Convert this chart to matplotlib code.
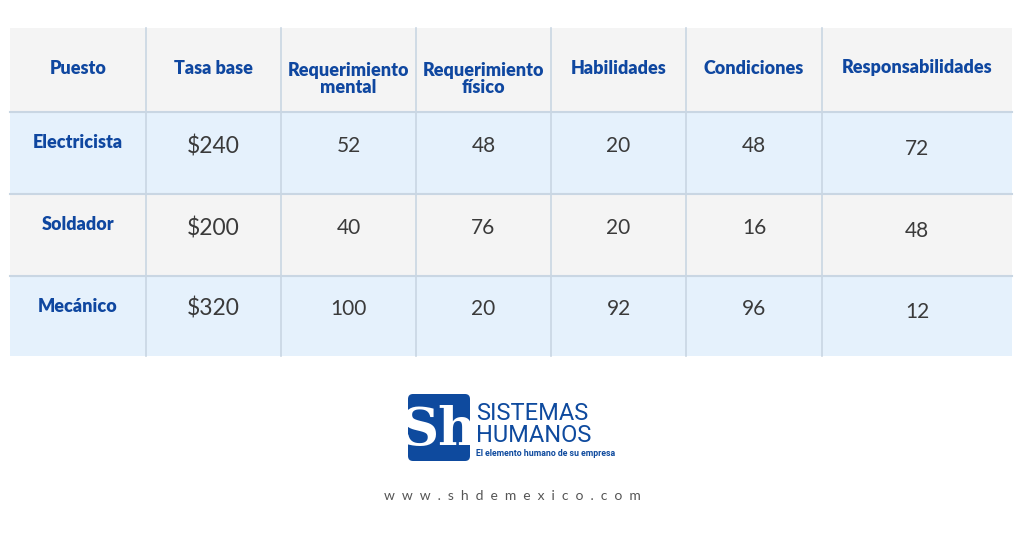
import matplotlib
matplotlib.use("Agg")
import matplotlib.pyplot as plt
from matplotlib.patches import Rectangle, FancyBboxPatch

headers = ["Puesto", "Tasa base", "Requerimiento\nmental", "Requerimiento\nfísico",
           "Habilidades", "Condiciones", "Responsabilidades"]
puestos = ["Electricista", "Soldador", "Mecánico"]
tasa_base = ["$240", "$200", "$320"]
req_mental = [52, 40, 100]
req_fisico = [48, 76, 20]
habilidades = [20, 20, 92]
condiciones = [48, 16, 96]
responsabilidades = [72, 48, 12]

col_x = [10, 146, 281, 416, 551, 686, 822, 1012]
row_y = [28, 112, 194, 276, 356]
row_bg = ["#f4f4f4", "#e5f1fc", "#f4f4f4", "#e5f1fc"]
blue = "#0f47a0"
line = "#c9d6e3"

fig = plt.figure(figsize=(10.24, 5.38), dpi=100)
ax = fig.add_axes([0, 0, 1, 1])
ax.set_xlim(0, 1024); ax.set_ylim(538, 0); ax.axis("off")

for r in range(4):
    ax.add_patch(Rectangle((col_x[0], row_y[r]), col_x[-1]-col_x[0], row_y[r+1]-row_y[r],
                           color=row_bg[r], lw=0, zorder=1))
for x in col_x[1:-1]:
    ax.plot([x, x], [row_y[0], row_y[-1]], color=line, lw=1.2, zorder=2)
for y in row_y[1:-1]:
    ax.plot([col_x[0], col_x[-1]], [y, y], color=line, lw=1.5, zorder=2)

cx = [(col_x[i]+col_x[i+1])/2 for i in range(7)]
for i, h in enumerate(headers):
    yy = 68 if "\n" not in h else 79
    ax.text(cx[i], yy, h, ha="center", va="center", color=blue, fontsize=13,
            fontweight="heavy", family="Lato", linespacing=1.05, zorder=3)

cols = [tasa_base, req_mental, req_fisico, habilidades, condiciones, responsabilidades]
for r in range(3):
    yc = (row_y[r+1]+row_y[r+2])/2
    ax.text(cx[0], yc-10, puestos[r], ha="center", va="center", color=blue,
            fontsize=13, fontweight="heavy", family="Lato", zorder=3)
    for j, col in enumerate(cols):
        off = -7 if j < 5 else -4
        fs = 16.5 if j == 0 else 15
        ax.text(cx[j+1], yc+off, str(col[r]), ha="center", va="center", color="#3a3a3a",
                fontsize=fs, family="Lato", zorder=3)

# logo
ax.add_patch(FancyBboxPatch((408, 394), 62, 67, boxstyle="round,pad=0,rounding_size=5",
                            color="#0e4a9e", lw=0))
ax.text(439, 430, "Sh", ha="center", va="center", color="white", fontsize=38,
        family="DejaVu Serif", fontweight="bold")
ax.text(476, 414, "SISTEMAS", ha="left", va="center", color="#0e4a9e", fontsize=17,
        family="Roboto")
ax.text(476, 436, "HUMANOS", ha="left", va="center", color="#0e4a9e", fontsize=17, family="Roboto")
ax.text(476, 453, "El elemento humano de su empresa", ha="left", va="center",
        color="#0e4a9e", fontsize=6.3, family="Roboto", fontweight="bold")
ax.text(512, 496, "  ".join("www.shdemexico.com"), ha="center", va="center",
        color="#555555", fontsize=10, family="Lato")

fig.savefig("out.png", dpi=100, facecolor="white")
